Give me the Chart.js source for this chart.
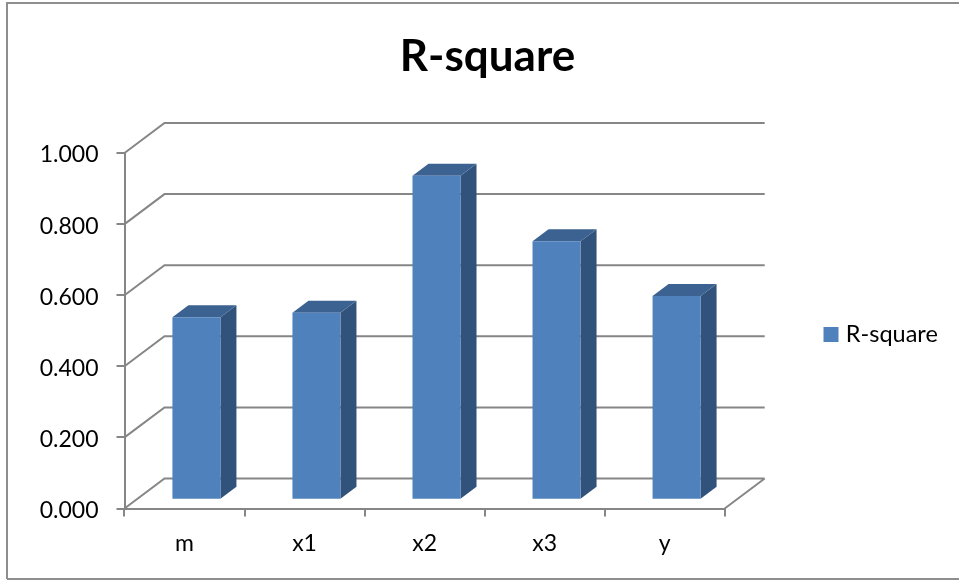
<!DOCTYPE html>
<html>
<head>
<meta charset="utf-8">
<script src="https://cdn.jsdelivr.net/npm/chart.js@4"></script>
<style>
    html, body { margin: 0; padding: 0; background: #fff; }
    #wrap { width: 959px; height: 583px; }
</style>
</head>
<body>
<div id="wrap"><canvas id="chart"></canvas></div>
<script>
const categories = ["m", "x1", "x2", "x3", "y"];
const rSquare = [0.513, 0.526, 0.911, 0.727, 0.573];
const seriesName = "R-square";

const fontFamily = "Lato, Carlito, sans-serif";
const lineColor = "#868686";
const frontColor = "#4f81bd";
const topColor = "#3b6291";
const sideColor = "#31527a";

// depth of the back wall and of the bars, in pixels
const wallDx = 40, wallDy = 30;
const barDx = 16, barDy = 12;
const barShiftX = 11.9, barShiftY = 8.8;

// back walls, floor and outer frame go underneath the bars
const wallsPlugin = {
    id: "walls",
    afterLayout(chart) {
        // title and legend keep their own spot, independent of the plot width
        chart.titleBlock.left = 0;
        chart.titleBlock.right = 975;
        const legend = chart.legend;
        const w = legend.right - legend.left;
        legend.left = 818;
        legend.right = 818 + w;
        legend.top += 43;
        legend.bottom += 43;
    },
    beforeDraw(chart) {
        const { ctx, width, height } = chart;
        ctx.save();
        ctx.strokeStyle = "#8e8e8e";
        ctx.lineWidth = 2;
        ctx.beginPath();
        ctx.moveTo(7, height - 4);
        ctx.lineTo(7, 3);
        ctx.lineTo(width, 3);
        ctx.moveTo(7, height - 4);
        ctx.lineTo(width, height - 4);
        ctx.stroke();
        ctx.restore();
    },
    beforeDatasetsDraw(chart) {
        const { ctx, chartArea: area, scales } = chart;
        ctx.save();
        ctx.strokeStyle = lineColor;
        ctx.lineWidth = 2;
        ctx.beginPath();
        scales.y.ticks.forEach(tick => {
            const y = scales.y.getPixelForValue(tick.value);
            ctx.moveTo(area.left, y);
            ctx.lineTo(area.left + wallDx, y - wallDy);
            ctx.lineTo(area.right + wallDx, y - wallDy);
            if (tick.value === 0) {
                ctx.moveTo(area.right, y);
                ctx.lineTo(area.right + wallDx, y - wallDy);
            }
        });
        ctx.stroke();
        ctx.restore();

        // everything in the dataset layer sits halfway into the depth
        ctx.save();
        ctx.translate(barShiftX, -barShiftY);
        chart.getDatasetMeta(0).data.forEach(bar => {
            const { x, y, base, width } = bar.getProps(["x", "y", "base", "width"], true);
            const left = x - width / 2, right = x + width / 2;
            ctx.fillStyle = sideColor;
            ctx.beginPath();
            ctx.moveTo(right, y);
            ctx.lineTo(right + barDx, y - barDy);
            ctx.lineTo(right + barDx, base - barDy);
            ctx.lineTo(right, base);
            ctx.closePath();
            ctx.fill();
            ctx.fillStyle = topColor;
            ctx.beginPath();
            ctx.moveTo(left, y);
            ctx.lineTo(left + barDx, y - barDy);
            ctx.lineTo(right + barDx, y - barDy);
            ctx.lineTo(right, y);
            ctx.closePath();
            ctx.fill();
        });
    },
    afterDatasetsDraw(chart) {
        chart.ctx.restore();
    }
};

new Chart(document.getElementById("chart"), {
    type: "bar",
    data: {
        labels: categories,
        datasets: [{
            label: seriesName,
            data: rSquare,
            backgroundColor: frontColor,
            barPercentage: 0.4,
            categoryPercentage: 1
        }]
    },
    options: {
        responsive: true,
        maintainAspectRatio: false,
        animation: false,
        layout: { padding: { top: 0, right: 104.5, bottom: 0, left: 0 } },
        plugins: {
            tooltip: { enabled: false },
            title: {
                display: true,
                text: seriesName,
                color: "#000",
                font: { family: fontFamily, size: 44, weight: "bold" },
                padding: { top: 30, bottom: 70.2 }
            },
            legend: {
                position: "right",
                labels: {
                    color: "#000",
                    // small box with a thick stroke, pulls the text closer to the swatch
                    boxWidth: 6,
                    boxHeight: 6,
                    padding: 10,
                    font: { family: fontFamily, size: 23.5 },
                    generateLabels: () => [{
                        text: seriesName,
                        fillStyle: frontColor,
                        strokeStyle: frontColor,
                        lineWidth: 9,
                        datasetIndex: 0
                    }]
                }
            }
        },
        scales: {
            x: {
                afterFit(axis) { axis.height = 74.5; },
                border: { color: lineColor, width: 2 },
                grid: { drawOnChartArea: false, color: lineColor, lineWidth: 2, tickLength: 8, offset: true },
                ticks: { color: "#000", padding: 13, font: { family: fontFamily, size: 23 } }
            },
            y: {
                min: 0,
                max: 1,
                afterFit(axis) { axis.width = 124.5; },
                border: { color: lineColor, width: 2 },
                grid: { drawOnChartArea: false, color: lineColor, lineWidth: 2, tickLength: 8 },
                ticks: {
                    stepSize: 0.2,
                    color: "#000",
                    padding: 18,
                    labelOffset: 2,
                    font: { family: fontFamily, size: 23 },
                    callback: value => value.toFixed(3)
                }
            }
        }
    },
    plugins: [wallsPlugin]
});
</script>
</body>
</html>
